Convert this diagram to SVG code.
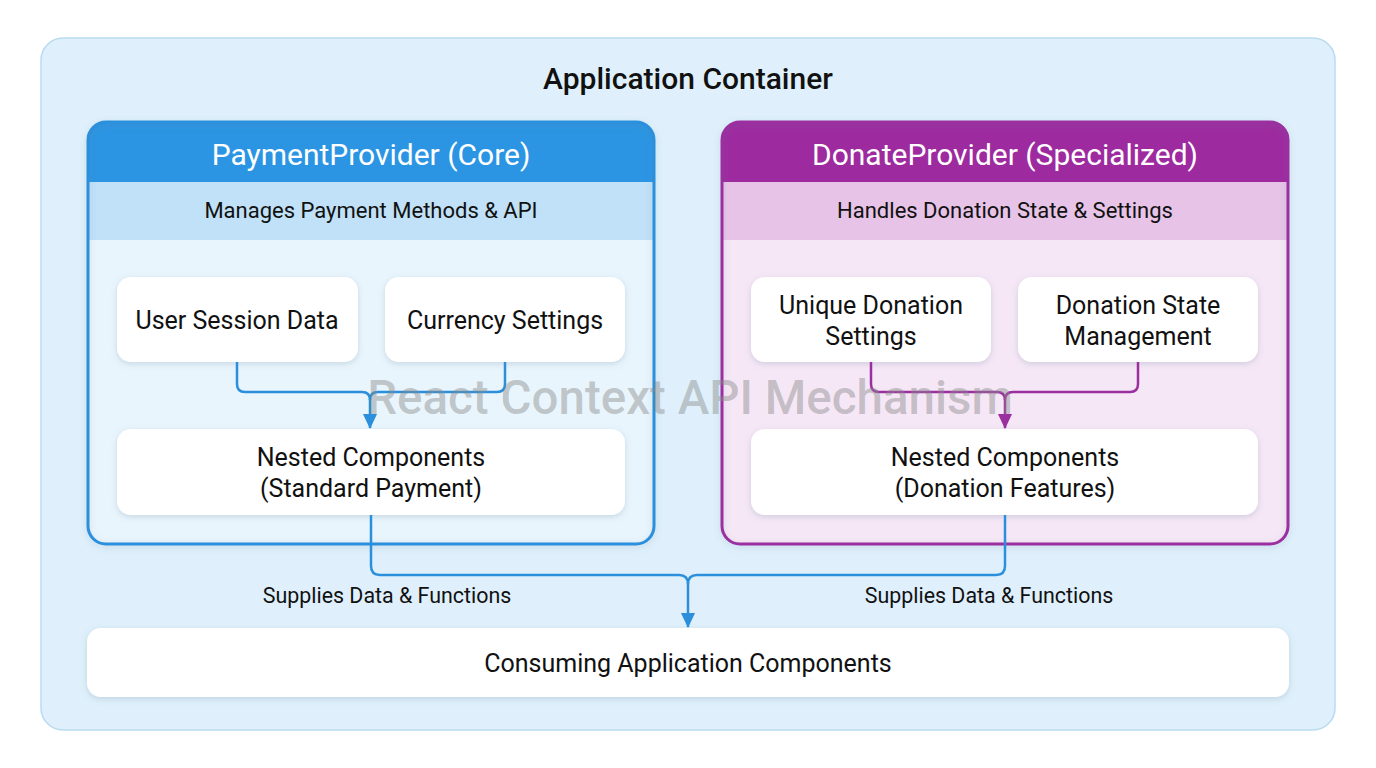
<svg xmlns="http://www.w3.org/2000/svg" width="1376" height="768" viewBox="0 0 1376 768">
<defs>
<filter id="sh" x="-10%" y="-20%" width="120%" height="150%">
<feDropShadow dx="0" dy="2" stdDeviation="3" flood-color="#5a7a90" flood-opacity="0.25"/>
</filter>
<marker id="ab" markerWidth="16" markerHeight="16" refX="14" refY="8" orient="auto" markerUnits="userSpaceOnUse" viewBox="0 0 16 16">
<path d="M0,1 L15,8 L0,15 Z" fill="#2b8fdc"/>
</marker>
<marker id="ap" markerWidth="16" markerHeight="16" refX="14" refY="8" orient="auto" markerUnits="userSpaceOnUse" viewBox="0 0 16 16">
<path d="M0,1 L15,8 L0,15 Z" fill="#9b2fa0"/>
</marker>
<clipPath id="cl"><rect x="88" y="122" width="566" height="422" rx="18"/></clipPath>
<clipPath id="cr"><rect x="722" y="122" width="566" height="422" rx="18"/></clipPath>
</defs>
<style>
text{font-family:Roboto,"Liberation Sans",sans-serif;text-anchor:middle;fill:#111}
.box{fill:#fff;filter:url(#sh)}
.t{font-size:25px}
.hd{font-size:30px;fill:#fff}
.sub{font-size:22px}
.lbl{font-size:21.4px}
.cb{fill:none;stroke:#2b8fdc;stroke-width:2.5}
.cp{fill:none;stroke:#9b2fa0;stroke-width:2.5}
</style>
<rect width="1376" height="768" fill="#ffffff"/>
<g id="container">
<rect x="41" y="38" width="1294" height="692" rx="22" fill="#dff0fc" stroke="#b9dbef" stroke-width="1.5"/>
<text x="688" y="89" font-size="30" font-weight="500">Application Container</text>
</g>
<g id="payment-provider">
<g clip-path="url(#cl)">
<rect x="88" y="122" width="566" height="422" fill="#e9f5fd"/>
<rect x="88" y="122" width="566" height="60" fill="#2b95e3"/>
<rect x="88" y="182" width="566" height="58" fill="#c0e1f7"/>
</g>
<rect x="88" y="122" width="566" height="422" rx="18" fill="none" stroke="#2b8fdc" stroke-width="3" filter="url(#sh)"/>
<text class="hd" x="371" y="165">PaymentProvider (Core)</text>
<text class="sub" x="371" y="218">Manages Payment Methods &amp; API</text>
</g>
<g id="user-session">
<rect class="box" x="117" y="277" width="241" height="85" rx="14"/>
<text class="t" x="237" y="329">User Session Data</text>
</g>
<g id="currency-settings">
<rect class="box" x="385" y="277" width="240" height="85" rx="14"/>
<text class="t" x="505" y="329">Currency Settings</text>
</g>
<g id="nested-payment">
<rect class="box" x="117" y="429" width="508" height="86" rx="14"/>
<text class="t" x="371" y="466">Nested Components</text>
<text class="t" x="371" y="497">(Standard Payment)</text>
</g>
<g id="donate-provider">
<g clip-path="url(#cr)">
<rect x="722" y="122" width="566" height="422" fill="#f6e7f6"/>
<rect x="722" y="122" width="566" height="60" fill="#9e2a9f"/>
<rect x="722" y="182" width="566" height="58" fill="#e7c4e7"/>
</g>
<rect x="722" y="122" width="566" height="422" rx="18" fill="none" stroke="#9b2fa0" stroke-width="3" filter="url(#sh)"/>
<text class="hd" x="1005" y="165">DonateProvider (Specialized)</text>
<text class="sub" x="1005" y="218">Handles Donation State &amp; Settings</text>
</g>
<g id="unique-donation">
<rect class="box" x="751" y="277" width="240" height="85" rx="14"/>
<text class="t" x="871" y="314">Unique Donation</text>
<text class="t" x="871" y="345">Settings</text>
</g>
<g id="donation-state">
<rect class="box" x="1018" y="277" width="240" height="85" rx="14"/>
<text class="t" x="1138" y="314">Donation State</text>
<text class="t" x="1138" y="345">Management</text>
</g>
<g id="nested-donation">
<rect class="box" x="751" y="429" width="507" height="86" rx="14"/>
<text class="t" x="1005" y="466">Nested Components</text>
<text class="t" x="1005" y="497">(Donation Features)</text>
</g>
<g id="consuming">
<rect class="box" x="87" y="628" width="1202" height="69" rx="14"/>
<text class="t" x="688" y="672">Consuming Application Components</text>
</g>
<g id="connectors">
<path class="cb" d="M237,362 V384 Q237,392 245,392 H362 Q370,392 370,400"/>
<path class="cb" d="M505,362 V384 Q505,392 497,392 H378 Q370,392 370,400 V428" marker-end="url(#ab)"/>
<path class="cp" d="M871,362 V384 Q871,392 879,392 H997 Q1005,392 1005,400"/>
<path class="cp" d="M1138,362 V384 Q1138,392 1130,392 H1013 Q1005,392 1005,400 V428" marker-end="url(#ap)"/>
<path class="cb" d="M371,515 V566 Q371,575 380,575 H679 Q688,575 688,584"/>
<path class="cb" d="M1005,515 V566 Q1005,575 996,575 H697 Q688,575 688,584 V627" marker-end="url(#ab)"/>
<text class="lbl" x="387" y="603">Supplies Data &amp; Functions</text>
<text class="lbl" x="989" y="603">Supplies Data &amp; Functions</text>
</g>
<text x="690" y="414" font-size="47.5" font-weight="500" style="fill:#8a8a8a;fill-opacity:0.45">React Context API Mechanism</text>
</svg>
